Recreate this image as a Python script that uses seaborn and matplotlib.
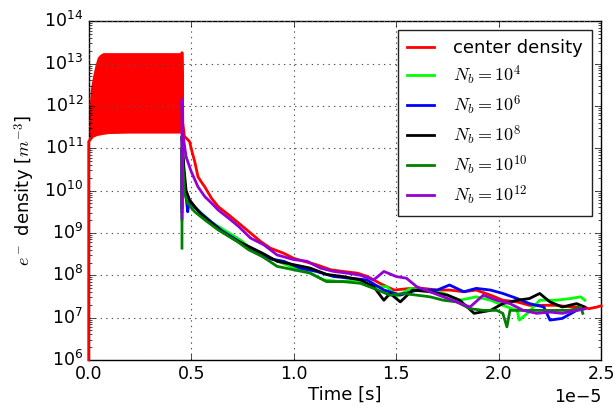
import numpy as np
import pandas as pd
import matplotlib
matplotlib.use("Agg")
import matplotlib.pyplot as plt
import seaborn as sns

plt.style.use("classic")
plt.rcParams["mathtext.fontset"] = "cm"
plt.rcParams["font.family"] = ["DejaVu Sans"]
plt.rcParams["figure.facecolor"] = "white"
plt.rcParams["savefig.facecolor"] = "white"

SCALE = 1e-5  # time values below are in units of 1e-5 s

# ---- center density: fast oscillation band (envelopes), then decay ----
band_up_t = [0.0, 0.003, 0.008, 0.018, 0.03, 0.042, 0.055, 0.07, 0.455]
band_up_log = [11.2, 12.0, 12.4, 12.68, 12.95, 13.15, 13.22, 13.26, 13.26]
band_lo_t = [0.0, 0.01, 0.02, 0.04, 0.07, 0.1, 0.2, 0.3, 0.455]
band_lo_log = [11.16, 11.22, 11.28, 11.32, 11.35, 11.37, 11.38, 11.38, 11.38]

decay_t = [0.455, 0.459, 0.467, 0.48, 0.492, 0.505, 0.517, 0.533, 0.55,
           0.566, 0.599, 0.632, 0.682, 0.732, 0.789, 0.838, 0.886, 0.951, 1.0, 1.05,
           1.11, 1.18, 1.24, 1.31, 1.36, 1.42, 1.49, 1.57, 1.63, 1.70, 1.76, 1.83,
           1.89, 1.96, 2.02, 2.09, 2.15, 2.22, 2.28, 2.35, 2.41, 2.44, 2.48, 2.5]
decay_log = [13.26, 11.6, 11.28, 11.22, 11.16, 10.9, 10.69, 10.33, 10.2,
             10.09, 9.82, 9.62, 9.43, 9.23, 9.0, 8.8, 8.64, 8.52, 8.4, 8.33,
             8.25, 8.13, 8.09, 8.05, 7.97, 7.81, 7.65, 7.69, 7.69, 7.65, 7.65, 7.61,
             7.65, 7.53, 7.41, 7.37, 7.29, 7.29, 7.29, 7.25, 7.25, 7.21, 7.25, 7.28]

red_t = [0.0] + band_lo_t + decay_t
red_log = [6.0] + band_lo_log + decay_log

# ---- N_b = 1e4 (light green) ----
g4_t = [0.455, 0.455, 0.465, 0.48, 0.5, 0.53, 0.566, 0.6, 0.65, 0.7, 0.75, 0.789,
        0.886, 0.984, 1.065, 1.146, 1.227, 1.31, 1.39, 1.455, 1.5, 1.57, 1.65, 1.73,
        1.81, 1.89, 1.96, 2.02, 2.09, 2.1, 2.14, 2.2, 2.28, 2.35, 2.4, 2.42]
g4_log = [9.3, 10.9, 10.2, 9.85, 9.7, 9.55, 9.4, 9.25, 9.1, 8.95, 8.8, 8.62,
          8.4, 8.21, 8.09, 7.89, 7.85, 7.89, 7.73, 7.73, 7.49, 7.69, 7.65, 7.57,
          7.41, 7.49, 7.41, 7.29, 7.17, 6.94, 7.1, 7.41, 7.41, 7.45, 7.49, 7.41]

# ---- N_b = 1e6 (blue) ----
b6_t = [0.455, 0.455, 0.465, 0.475, 0.483, 0.49, 0.52, 0.55, 0.6, 0.65, 0.7, 0.75,
        0.789, 0.87, 0.951, 1.03, 1.11, 1.195, 1.276, 1.357, 1.44, 1.52, 1.6, 1.7,
        1.76, 1.83, 1.89, 1.96, 2.02, 2.09, 2.15, 2.22, 2.25, 2.31, 2.38, 2.42]
b6_log = [9.5, 11.0, 10.3, 9.85, 9.5, 9.75, 9.6, 9.45, 9.25, 9.05, 8.9, 8.75,
          8.6, 8.4, 8.33, 8.17, 8.09, 7.97, 7.93, 7.89, 7.65, 7.53, 7.65, 7.65,
          7.77, 7.61, 7.69, 7.65, 7.57, 7.45, 7.33, 7.25, 6.94, 6.98, 7.17, 7.21]

# ---- N_b = 1e8 (black) ----
k8_t = [0.455, 0.455, 0.464, 0.475, 0.492, 0.517, 0.55, 0.6, 0.649, 0.715, 0.781,
        0.848, 0.919, 1.0, 1.08, 1.16, 1.24, 1.325, 1.39, 1.44, 1.47, 1.52, 1.58,
        1.665, 1.75, 1.81, 1.88, 1.96, 2.02, 2.09, 2.15, 2.2, 2.25, 2.31, 2.38, 2.42]
k8_log = [9.6, 11.28, 10.57, 10.0, 9.78, 9.62, 9.43, 9.23, 9.03, 8.83, 8.68,
          8.52, 8.33, 8.25, 8.17, 8.02, 7.97, 7.89, 7.73, 7.41, 7.57, 7.37, 7.65,
          7.61, 7.53, 7.41, 7.1, 7.17, 7.33, 7.41, 7.45, 7.57, 7.37, 7.25, 7.33, 7.25]

# ---- N_b = 1e10 (dark green) ----
g10_t = [0.455, 0.455, 0.467, 0.483, 0.517, 0.566, 0.632, 0.715, 0.781, 0.848,
         0.919, 1.0, 1.08, 1.16, 1.24, 1.325, 1.39, 1.47, 1.535, 1.6, 1.665, 1.73,
         1.795, 1.86, 1.925, 1.99, 2.02, 2.04, 2.055, 2.12, 2.2, 2.28, 2.35, 2.4, 2.41]
g10_log = [8.64, 11.0, 9.94, 9.7, 9.5, 9.31, 9.07, 8.83, 8.6, 8.44,
           8.21, 8.13, 8.05, 7.85, 7.85, 7.81, 7.69, 7.53, 7.57, 7.53, 7.49, 7.41,
           7.37, 7.21, 7.17, 7.17, 7.1, 6.78, 7.17, 7.17, 7.17, 7.17, 7.17, 7.25, 7.1]

# ---- N_b = 1e12 (purple) ----
p12_t = [0.455, 0.455, 0.459, 0.475, 0.5, 0.533, 0.566, 0.6, 0.632, 0.682, 0.732,
         0.789, 0.854, 0.919, 1.0, 1.065, 1.13, 1.195, 1.26, 1.325, 1.39, 1.44, 1.5,
         1.55, 1.6, 1.665, 1.73, 1.795, 1.86, 1.925, 1.99, 2.055, 2.12, 2.185, 2.25,
         2.31, 2.38, 2.42]
p12_log = [9.35, 12.15, 11.35, 10.8, 10.45, 10.09, 9.86, 9.7, 9.54, 9.35, 9.15,
           8.88, 8.72, 8.48, 8.37, 8.33, 8.17, 8.09, 8.05, 8.0, 7.89, 8.09, 7.97,
           7.93, 7.73, 7.61, 7.49, 7.37, 7.25, 7.53, 7.41, 7.33, 7.17, 7.1, 7.13,
           7.1, 7.17, 7.21]

labels = ["center density", r"$N_b = 10^4$", r"$N_b = 10^6$", r"$N_b = 10^8$",
          r"$N_b = 10^{10}$", r"$N_b = 10^{12}$"]
colors = ["#ff0000", "#00ff00", "#0000ff", "#000000", "#008000", "#9400d3"]
series = [(red_t, red_log), (g4_t, g4_log), (b6_t, b6_log), (k8_t, k8_log),
          (g10_t, g10_log), (p12_t, p12_log)]

frames = []
for lab, (t, lg) in zip(labels, series):
    frames.append(pd.DataFrame({"time": np.array(t) * SCALE,
                                "dens": 10.0 ** np.array(lg),
                                "series": lab}))
df = pd.concat(frames, ignore_index=True)

fig = plt.figure(figsize=(6.16, 4.18), dpi=100)
ax = fig.add_axes([0.144, 0.139, 0.832, 0.810])

# oscillation band of center density
all_t = np.union1d(band_up_t, band_lo_t)
up_vals = np.interp(all_t, band_up_t, band_up_log)
lo_vals = np.interp(all_t, band_lo_t, band_lo_log)
ax.fill_between(all_t * SCALE, 10.0 ** lo_vals, 10.0 ** up_vals,
                color="#ff0000", linewidth=0, zorder=2)

sns.lineplot(data=df, x="time", y="dens", hue="series", hue_order=labels,
             palette=dict(zip(labels, colors)), sort=False, estimator=None,
             linewidth=2, ax=ax, zorder=3, clip_on=False)

ax.set_yscale("log")
ax.set_xlim(0, 2.5e-5)
ax.set_ylim(1e6, 1e14)
ax.ticklabel_format(axis="x", style="sci", scilimits=(0, 0))
ax.grid(True, which="major", linestyle=":", color="#555555", linewidth=0.8)
ax.tick_params(labelsize=12.5)
ax.xaxis.get_offset_text().set_fontsize(12.5)
ax.set_xlabel("Time [s]", fontsize=13, labelpad=2)
ax.set_ylabel(r"$e^-$ density [$m^{-3}$]", fontsize=13)

leg = ax.legend(loc="upper right", fontsize=13, handlelength=1.45,
                handletextpad=1.1, labelspacing=0.35, borderpad=0.5,
                fancybox=False, frameon=True, numpoints=1)
leg.get_frame().set_edgecolor("#222222")
for line in leg.get_lines():
    line.set_linewidth(2)

fig.savefig("out.png", dpi=100)
